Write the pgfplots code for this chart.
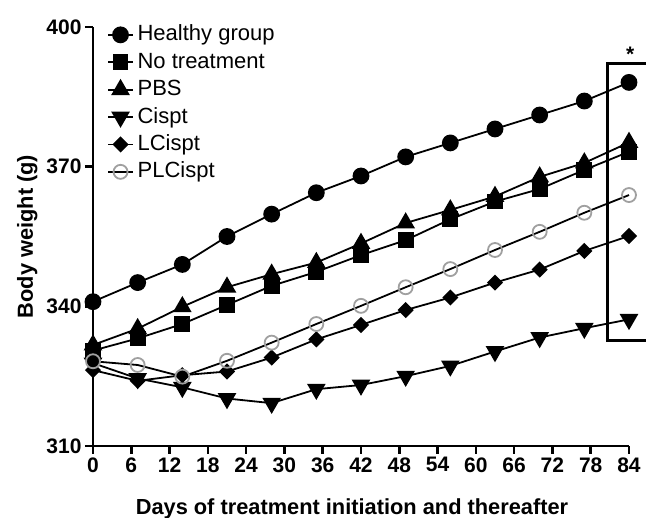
\documentclass[border=0pt]{standalone}
\usepackage{fontspec}
\setmainfont{Liberation Sans}
\usepackage{pgfplots}
\pgfplotsset{compat=1.18}
\definecolor{CircGray}{RGB}{160,160,160}

\begin{document}
\begin{tikzpicture}
% page = reference frame (axis box is 536pt x 419pt at the origin)
\path[use as bounding box] (-93pt,-72pt) rectangle (553pt,446pt);
\begin{axis}[
  scale only axis,
  width=536pt, height=419pt,
  xmin=0, xmax=84, ymin=310, ymax=400,
  axis lines*=left,
  axis line style={line width=2.6pt},
  xtick={0,6,...,84},
  ytick={310,340,370,400},
  tick align=outside,
  major tick length=8pt,
  tick style={line width=2.6pt, black},
  /pgf/number format/assume math mode=true,
  tick label style={font=\fontsize{21}{23}\selectfont\bfseries},
  xlabel={Days of treatment initiation and thereafter},
  ylabel={Body weight (g)},
  label style={font=\fontsize{21.8}{24}\selectfont\bfseries},
  xlabel shift=19pt,
  xlabel style={xshift=-9pt},
  ylabel shift=2pt,
  clip=false,
  every axis plot/.append style={line width=1.8pt, black},
  legend image code/.code={
    \draw[mark repeat=2, mark phase=2, #1]
      plot coordinates {(0pt,0pt) (12.5pt,0pt) (25pt,0pt)};},
  legend style={
    at={(rel axis cs:0.026,1.008)}, anchor=north west,
    draw=none, fill=none, inner sep=0pt,
    row sep=5.4pt,
    nodes={inner sep=0pt, text height=17pt, text depth=5pt},
    font=\fontsize{22}{24}\selectfont,
  },
  legend cell align=left,
]

\addplot[mark=*, mark size=7.5pt] coordinates {
(0,341.0)(7,345.1)(14,349.0)(21,355.0)(28,359.8)(35,364.4)(42,368.0)
(49,372.1)(56,375.1)(63,378.1)(70,381.1)(77,384.1)(84,388.1)};
\addlegendentry{\,Healthy group}

\addplot[mark=square*, mark size=7pt] coordinates {
(0,330.5)(7,333.1)(14,336.2)(21,340.3)(28,344.4)(35,347.4)(42,351.0)
(49,354.2)(56,358.7)(63,362.5)(70,365.2)(77,369.3)(84,373.2)};
\addlegendentry{\,No treatment}

\addplot[mark=triangle*, mark size=9pt] coordinates {
(0,331.7)(7,335.2)(14,339.9)(21,344.1)(28,346.9)(35,349.4)(42,353.5)
(49,357.9)(56,360.7)(63,363.6)(70,367.8)(77,370.8)(84,375.2)};
\addlegendentry{\,PBS}

\addplot[mark=triangle*, mark size=9pt, mark options={rotate=180}] coordinates {
(0,327.8)(7,324.5)(14,322.6)(21,320.2)(28,319.2)(35,322.2)(42,323.1)
(49,325.0)(56,327.2)(63,330.3)(70,333.3)(77,335.3)(84,337.2)};
\addlegendentry{\,Cispt}

\addplot[mark=square*, mark size=4.8pt, mark options={rotate=45}] coordinates {
(0,326.3)(7,324.0)(14,325.2)(21,326.0)(28,329.0)(35,332.9)(42,336.0)
(49,339.2)(56,341.9)(63,345.1)(70,347.9)(77,351.9)(84,355.1)};
\addlegendentry{\,LCispt}

\addplot[mark=o, mark size=7pt, mark options={draw=CircGray, line width=1.8pt}] coordinates {
(0,328.2)(7,327.4)(14,324.9)(21,328.3)(28,332.2)(35,336.2)(42,340.1)
(49,344.1)(56,348.0)(63,352.1)(70,356.0)(77,360.1)(84,363.9)};
\addlegendentry{\,PLCispt}

% bracket around the day-84 values
\draw[line width=2.6pt]
  (axis cs:87.5,392.2) -- (axis cs:80.6,392.2) -- (axis cs:80.6,332.6) -- (axis cs:87.5,332.6);
\node[anchor=base, font=\fontsize{21}{23}\selectfont\bfseries, inner sep=0pt]
  at (axis cs:84.2,392.6) {*};

\end{axis}
\end{tikzpicture}
\end{document}
